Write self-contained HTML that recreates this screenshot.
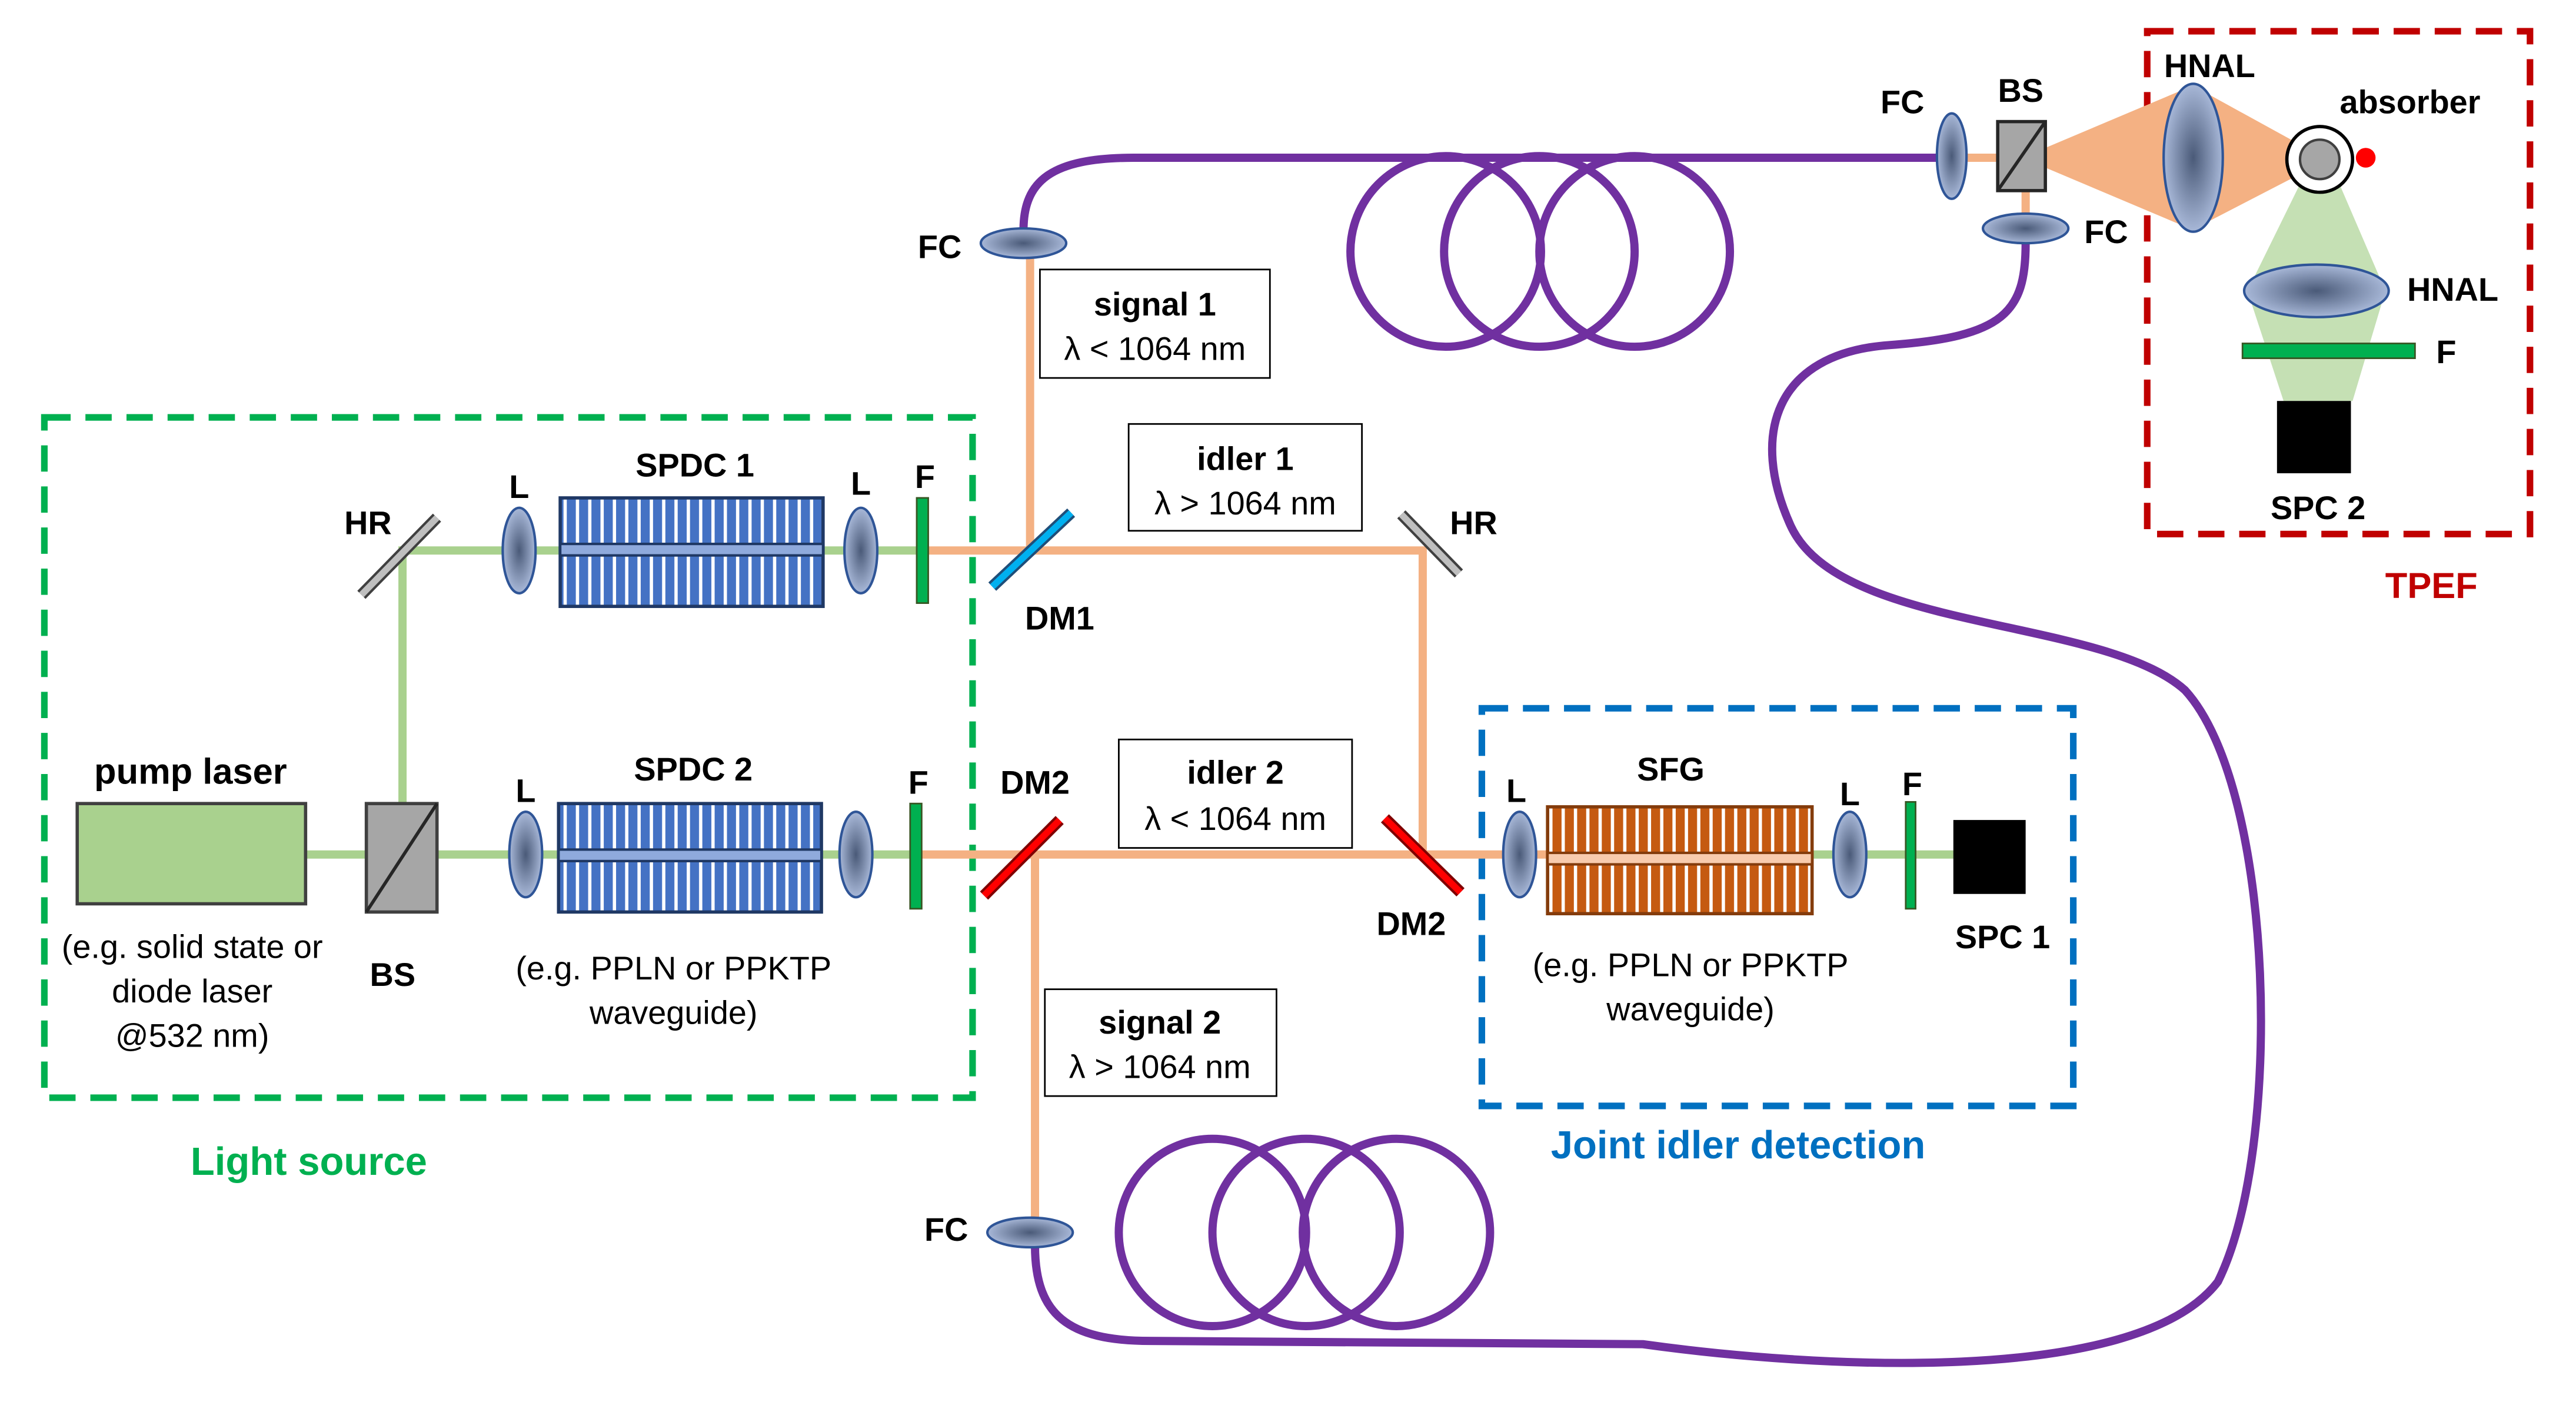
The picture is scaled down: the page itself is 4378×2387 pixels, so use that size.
<!DOCTYPE html>
<html><head><meta charset="utf-8"><style>
html,body{margin:0;padding:0;background:#fff;}
svg{display:block;}
text{font-family:"Liberation Sans",sans-serif;}
.b{font-weight:bold;font-size:20px;fill:#000;}
.r{font-size:20px;fill:#000;}
</style></head><body>
<svg width="4378" height="2387" viewBox="0 0 1568 855" preserveAspectRatio="none" xmlns="http://www.w3.org/2000/svg">
<defs>
<radialGradient id="lg" cx="0.5" cy="0.5" r="0.5">
<stop offset="0" stop-color="#4a5a78"/><stop offset="1" stop-color="#a8b8d8"/>
</radialGradient>
<pattern id="bs" width="7.5" height="10" patternUnits="userSpaceOnUse">
<rect width="7.5" height="10" fill="#fff"/><rect width="5.5" height="10" fill="#4472c4"/>
</pattern>
<pattern id="os" width="7.5" height="10" patternUnits="userSpaceOnUse">
<rect width="7.5" height="10" fill="#fff"/><rect width="5.5" height="10" fill="#c55a11"/>
</pattern>
</defs>

<rect x="27" y="254" width="565" height="414" fill="none" stroke="#00b050" stroke-width="4" stroke-dasharray="16,9"/>
<rect x="902" y="431" width="360" height="242" fill="none" stroke="#0070c0" stroke-width="4" stroke-dasharray="16,9"/>
<rect x="1307" y="19" width="233" height="306" fill="none" stroke="#c00000" stroke-width="4" stroke-dasharray="16,9"/>

<g fill="none" stroke="#7030a0" stroke-width="5">
<path d="M623 140 C623 110,640 96,690 96 L1180 96"/>
<circle cx="880" cy="153" r="58"/><circle cx="937" cy="153" r="58"/><circle cx="995" cy="153" r="58"/>
<circle cx="738" cy="750" r="57"/><circle cx="795" cy="750" r="57"/><circle cx="850" cy="750" r="57"/>
<path d="M630 758 C630 800,650 816,700 816 L1000 818 C1100 832,1300 845,1350 780 C1390 700,1385 480,1330 420 C1280 375,1120 385,1090 320 C1065 265,1080 215,1150 210 C1220 205,1233 190,1233 148"/>
</g>

<g fill="none" stroke-width="5">
<path d="M186 520 H340 M245 489 V335 H341" stroke="#a9d18e"/>
<path d="M500 520 H557 M501 335 H558" stroke="#a9d18e"/>
<path d="M561 520 H942 M565 335 H866 V520 M627 335 V150 M630 520 V750" stroke="#f4b183"/>
<path d="M1103 520 H1190" stroke="#a9d18e"/>
<path d="M1196 96 H1216 M1233 116 V132" stroke="#f4b183"/>
</g>

<polygon points="1245,90 1335,52 1335,140 1245,102" fill="#f4b183"/>
<polygon points="1340,55 1400,88 1400,106 1340,137" fill="#f4b183"/>
<polygon points="1400,112 1424,112 1452,177 1432,244 1390,244 1368,177" fill="#c5e0b4"/>

<rect x="47" y="489" width="139" height="61" fill="#a9d18e" stroke="#404040" stroke-width="2"/>
<rect x="223" y="489" width="43" height="66" fill="#a6a6a6" stroke="#404040" stroke-width="2"/>
<line x1="223" y1="555" x2="266" y2="489" stroke="#262626" stroke-width="2"/>
<line x1="220" y1="362" x2="266" y2="315" stroke="#404040" stroke-width="7"/>
<line x1="220" y1="362" x2="266" y2="315" stroke="#bfbfbf" stroke-width="4"/>
<line x1="853" y1="313" x2="888" y2="349" stroke="#404040" stroke-width="7"/>
<line x1="853" y1="313" x2="888" y2="349" stroke="#bfbfbf" stroke-width="4"/>
<line x1="604" y1="357" x2="652" y2="312" stroke="#1f4e79" stroke-width="7"/>
<line x1="604" y1="357" x2="652" y2="312" stroke="#00b0f0" stroke-width="4"/>
<line x1="599" y1="545" x2="645" y2="499" stroke="#7f0000" stroke-width="7"/>
<line x1="599" y1="545" x2="645" y2="499" stroke="#ff0000" stroke-width="4"/>
<line x1="843" y1="498" x2="889" y2="543" stroke="#7f0000" stroke-width="7"/>
<line x1="843" y1="498" x2="889" y2="543" stroke="#ff0000" stroke-width="4"/>

<rect x="341" y="303" width="160" height="66" fill="url(#bs)" stroke="#1f3864" stroke-width="2"/>
<rect x="341" y="331" width="160" height="7" fill="#8faadc" stroke="#1f3864" stroke-width="1.5"/>
<rect x="340" y="489" width="160" height="66" fill="url(#bs)" stroke="#1f3864" stroke-width="2"/>
<rect x="340" y="517" width="160" height="7" fill="#8faadc" stroke="#1f3864" stroke-width="1.5"/>
<rect x="942" y="491" width="161" height="65" fill="url(#os)" stroke="#843c0c" stroke-width="2"/>
<rect x="942" y="519" width="161" height="7" fill="#f8cbad" stroke="#843c0c" stroke-width="1.5"/>

<g fill="#00b050" stroke="#375623" stroke-width="1">
<rect x="558" y="303" width="7" height="64"/>
<rect x="554" y="489" width="7" height="64"/>
<rect x="1160" y="488" width="6" height="65"/>
<rect x="1365" y="209" width="105" height="9"/>
</g>

<g fill="url(#lg)" stroke="#2f5597" stroke-width="1.5">
<ellipse cx="316" cy="335" rx="10" ry="26"/>
<ellipse cx="524" cy="335" rx="10" ry="26"/>
<ellipse cx="320" cy="520" rx="10" ry="26"/>
<ellipse cx="521" cy="520" rx="10" ry="26"/>
<ellipse cx="925" cy="520" rx="10" ry="26"/>
<ellipse cx="1126" cy="520" rx="10" ry="26"/>
<ellipse cx="623" cy="148" rx="26" ry="9"/>
<ellipse cx="627" cy="750" rx="26" ry="9"/>
<ellipse cx="1188" cy="95" rx="9" ry="26"/>
<ellipse cx="1233" cy="139" rx="26" ry="9"/>
<ellipse cx="1335" cy="96" rx="18" ry="45"/>
<ellipse cx="1410" cy="177" rx="44" ry="16"/>
</g>

<rect x="1216" y="74" width="29" height="42" fill="#a6a6a6" stroke="#262626" stroke-width="2"/>
<line x1="1216" y1="116" x2="1245" y2="74" stroke="#262626" stroke-width="2"/>
<circle cx="1412" cy="97" r="20" fill="#fff" stroke="#000" stroke-width="2"/>
<circle cx="1412" cy="97" r="12" fill="#a6a6a6" stroke="#404040" stroke-width="1.5"/>
<circle cx="1440" cy="96" r="6" fill="#ff0000"/>
<rect x="1189" y="499" width="44" height="45" fill="#000"/>
<rect x="1386" y="244" width="45" height="44" fill="#000"/>

<g fill="#fff" stroke="#000" stroke-width="1">
<rect x="633" y="164" width="140" height="66"/>
<rect x="687" y="258" width="142" height="65"/>
<rect x="681" y="450" width="142" height="66"/>
<rect x="636" y="602" width="141" height="65"/>
</g>

<g text-anchor="middle">
<text class="b" x="703" y="192">signal 1</text><text class="r" x="703" y="219">λ &lt; 1064 nm</text>
<text class="b" x="758" y="286">idler 1</text><text class="r" x="758" y="313">λ &gt; 1064 nm</text>
<text class="b" x="752" y="477">idler 2</text><text class="r" x="752" y="505">λ &lt; 1064 nm</text>
<text class="b" x="706" y="629">signal 2</text><text class="r" x="706" y="656">λ &gt; 1064 nm</text>

<text class="b" x="116" y="477" style="font-size:22px">pump laser</text>
<text class="r" x="117" y="583">(e.g. solid state or</text>
<text class="r" x="117" y="610">diode laser</text>
<text class="r" x="117" y="637">@532 nm)</text>
<text class="b" x="239" y="600">BS</text>
<text class="b" x="224" y="325">HR</text>
<text class="b" x="897" y="325">HR</text>
<text class="b" x="316" y="303">L</text>
<text class="b" x="524" y="301">L</text>
<text class="b" x="320" y="488">L</text>
<text class="b" x="423" y="290">SPDC 1</text>
<text class="b" x="422" y="475">SPDC 2</text>
<text class="b" x="563" y="297">F</text>
<text class="b" x="559" y="483">F</text>
<text class="r" x="410" y="596">(e.g. PPLN or PPKTP</text>
<text class="r" x="410" y="623">waveguide)</text>
<text class="b" x="645" y="383">DM1</text>
<text class="b" x="630" y="483">DM2</text>
<text class="b" x="859" y="569">DM2</text>
<text class="b" x="572" y="157">FC</text>
<text class="b" x="576" y="755">FC</text>
<text class="b" x="923" y="488">L</text>
<text class="b" x="1017" y="475">SFG</text>
<text class="b" x="1126" y="490">L</text>
<text class="b" x="1164" y="484">F</text>
<text class="b" x="1219" y="577">SPC 1</text>
<text class="r" x="1029" y="594">(e.g. PPLN or PPKTP</text>
<text class="r" x="1029" y="621">waveguide)</text>
<text class="b" x="1158" y="69">FC</text>
<text class="b" x="1230" y="62">BS</text>
<text class="b" x="1282" y="148">FC</text>
<text class="b" x="1345" y="47">HNAL</text>
<text class="b" x="1467" y="69">absorber</text>
<text class="b" x="1493" y="183">HNAL</text>
<text class="b" x="1489" y="221">F</text>
<text class="b" x="1411" y="316">SPC 2</text>
<text x="188" y="715" style="font-weight:bold;font-size:24px;fill:#00b050">Light source</text>
<text x="1058" y="705" style="font-weight:bold;font-size:24px;fill:#0070c0">Joint idler detection</text>
<text x="1480" y="364" style="font-weight:bold;font-size:22px;fill:#c00000">TPEF</text>
</g>
</svg>
</body></html>
